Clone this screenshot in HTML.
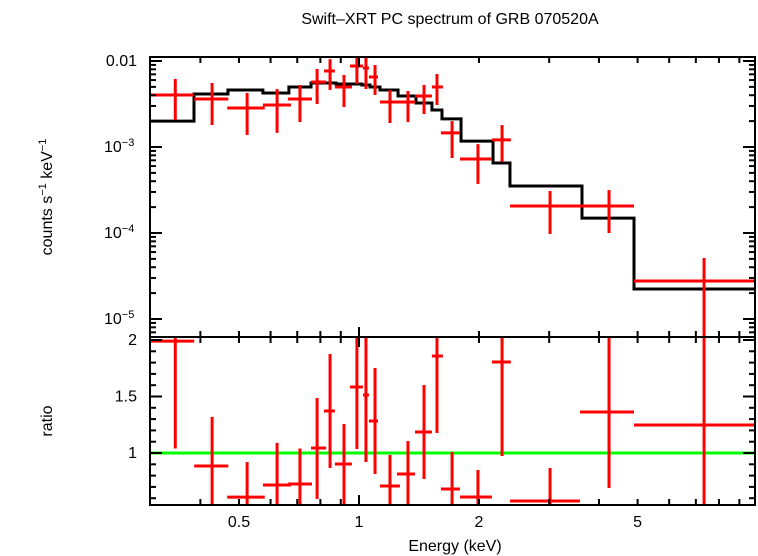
<!DOCTYPE html>
<html><head><meta charset="utf-8"><style>
html,body{margin:0;padding:0;background:#fff;}
svg{display:block;font-family:"Liberation Sans",Arial,sans-serif;}
</style></head><body>
<svg id="c" width="758" height="556" viewBox="0 0 758 556">
<text x="450" y="24" text-anchor="middle" font-size="16">Swift–XRT PC spectrum of GRB 070520A</text>
<text x="0" y="0" transform="translate(52,197) rotate(-90)" text-anchor="middle" font-size="16">counts s<tspan dy="-6" font-size="11">−1</tspan><tspan dy="6"> keV</tspan><tspan dy="-6" font-size="11">−1</tspan></text>
<text x="0" y="0" transform="translate(52,421) rotate(-90)" text-anchor="middle" font-size="16">ratio</text>
<text x="455" y="551" text-anchor="middle" font-size="16">Energy (keV)</text>
</svg>
<script>
const eLo=[0.299,0.386,0.467,0.574,0.663,0.758,0.817,0.870,0.949,1.023,1.059,1.129,1.245,1.382,1.524,1.605,1.792,2.155,2.392,3.585,4.897];
const eHi=[0.386,0.470,0.580,0.675,0.762,0.827,0.870,0.960,1.023,1.059,1.116,1.267,1.382,1.524,1.624,1.792,2.155,2.404,3.585,4.897,9.85];
const eMid=[0.346,0.428,0.524,0.623,0.711,0.785,0.846,0.917,0.988,1.041,1.097,1.196,1.327,1.456,1.569,1.712,1.988,2.285,3.015,4.239,7.34];
const flux=[4.03e-3,3.61e-3,2.84e-3,3.08e-3,3.61e-3,5.70e-3,7.65e-3,4.99e-3,8.75e-3,8.29e-3,6.52e-3,3.34e-3,3.34e-3,3.92e-3,4.99e-3,1.46e-3,7.24e-4,1.21e-3,2.06e-4,2.06e-4,2.77e-5];
const fluxHi=[6.18e-3,5.55e-3,4.25e-3,4.72e-3,5.26e-3,8.07e-3,1.05e-2,6.88e-3,1.17e-2,1.17e-2,8.98e-3,4.60e-3,4.48e-3,5.26e-3,7.06e-3,2.0e-3,1.08e-3,1.80e-3,3.08e-4,3.16e-4,5.12e-5];
const fluxLo=[2.06e-3,1.80e-3,1.38e-3,1.46e-3,1.95e-3,3.16e-3,4.60e-3,2.92e-3,5.40e-3,4.72e-3,4.03e-3,1.90e-3,1.95e-3,2.42e-3,3.08e-3,7.45e-4,3.72e-4,6.70e-4,9.73e-5,1.0e-4,1e-6];
const modelEdges=[0.299,0.3855,0.469,0.574,0.667,0.758,0.822,0.876,1.017,1.066,1.129,1.253,1.390,1.524,1.615,1.803,2.169,2.392,3.626,4.897,9.85];
const modelVals=[2.0e-3,4.13e-3,4.60e-3,4.25e-3,4.99e-3,5.55e-3,5.55e-3,5.40e-3,5.26e-3,4.99e-3,4.60e-3,3.92e-3,3.25e-3,2.69e-3,2.12e-3,1.17e-3,6.52e-4,3.52e-4,1.49e-4,2.23e-5];
const ratio=[1.99,0.885,0.61,0.717,0.726,1.044,1.372,0.903,1.584,1.513,1.283,0.708,0.814,1.186,1.858,0.681,0.611,1.805,0.575,1.363,1.248];
const ratioHi=[2.09,1.32,0.92,1.09,1.04,1.487,1.876,1.257,2.04,2.04,1.752,0.982,1.106,1.602,2.04,1.009,0.85,2.02,0.867,2.04,2.04];
const ratioLo=[1.04,0.4,0.4,0.4,0.4,0.593,0.867,0.4,1.035,0.920,0.814,0.4,0.4,0.770,1.177,0.4,0.4,0.973,0.4,0.690,0.4];
const xTicks=[0.5,1,2,5];
const xTickLabels=["0.5","1","2","5"];
const yTicksTop=[0.01,1e-3,1e-4,1e-5];
const yTickLabelsTop=[["0.01",""],["10","−3"],["10","−4"],["10","−5"]];
const yTicksBot=[2,1.5,1];
const yTickLabelsBot=["2","1.5","1"];

const L=150,R=755,T=57,M=337,B=505;
const NS="http://www.w3.org/2000/svg";
const svg=document.getElementById('c');
const X=e=>359+398.6*Math.log10(e);
const YT=f=>61-86*(Math.log10(f)+2);
const YB=r=>453-113*(r-1);
function el(tag,attrs,parent){const n=document.createElementNS(NS,tag);for(const k in attrs)n.setAttribute(k,attrs[k]);(parent||svg).appendChild(n);return n;}
const clipT=el('clipPath',{id:'ct'});el('rect',{x:L,y:T,width:R-L,height:M-T},clipT);
const clipB=el('clipPath',{id:'cb'});el('rect',{x:L,y:M,width:R-L,height:B-M},clipB);
const gT=el('g',{'clip-path':'url(#ct)'});


const gB=el('g',{'clip-path':'url(#cb)'});



let d='';
modelVals.forEach((v,i)=>{const x0=X(modelEdges[i]),x1=X(modelEdges[i+1]),y=YT(v);d+=(i===0?'M':'L')+x0+','+y+'L'+x1+','+y;});
const mp=el('path',{d:d,fill:'none',stroke:'#000','stroke-width':3},gT);



flux.forEach((f,i)=>{
  const g=el('g',{stroke:'#f00','stroke-width':3},gT);
  
  
  el('line',{x1:X(eLo[i]),x2:X(eHi[i]),y1:YT(f),y2:YT(f)},g);
  el('line',{x1:X(eMid[i]),x2:X(eMid[i]),y1:YT(fluxHi[i]),y2:YT(fluxLo[i])},g);
});
const gl=el('line',{x1:L,x2:R,y1:YB(1),y2:YB(1),stroke:'#0f0','stroke-width':3},gB);


ratio.forEach((r,i)=>{
  const g=el('g',{stroke:'#f00','stroke-width':3},gB);
  
  
  el('line',{x1:X(eLo[i]),x2:X(eHi[i]),y1:YB(r),y2:YB(r)},g);
  el('line',{x1:X(eMid[i]),x2:X(eMid[i]),y1:YB(ratioHi[i]),y2:YB(ratioLo[i])},g);
});

[[T,M,'top-panel-frame'],[M,B,'ratio-panel-frame']].forEach(p=>{
  const r=el('rect',{x:L,y:p[0],width:R-L,height:p[1]-p[0],fill:'none',stroke:'#000','stroke-width':2});
  
  
});
const tk=el('g',{stroke:'#000','stroke-width':2});


const xs=[];
for(let dec of [0.1,1]){for(let k=1;k<10;k++){const e=k*dec;if(X(e)>L+1&&X(e)<R-1)xs.push(e);}}
xs.forEach(e=>{const x=X(e);const big=Math.abs(e-1)<1e-9;const len=big?10:6;
  [T,M].forEach(y=>el('line',{x1:x,x2:x,y1:y,y2:y+len},tk));
  [M,B].forEach(y=>el('line',{x1:x,x2:x,y1:y,y2:y-len},tk));
});
for(let dec=1e-6;dec<0.05;dec*=10){for(let k=1;k<10;k++){const f=k*dec;const y=YT(f);if(y<T||y>M)continue;const len=k===1?12:6;
  el('line',{x1:L,x2:L+len,y1:y,y2:y},tk);el('line',{x1:R,x2:R-len,y1:y,y2:y},tk);}}
for(let r=0.6;r<2.05;r+=0.1){const y=YB(r);const big=Math.abs(r*2-Math.round(r*2))<1e-6;const len=big?12:6;
  el('line',{x1:L,x2:L+len,y1:y,y2:y},tk);el('line',{x1:R,x2:R-len,y1:y,y2:y},tk);}
xTicks.forEach((e,i)=>{const t=el('text',{x:X(e),y:527,'text-anchor':'middle','font-size':16});t.textContent=xTickLabels[i];
  });
yTicksTop.forEach((f,i)=>{const t=el('text',{x:i===0?137:128,y:YT(f)+5,'text-anchor':'end','font-size':16});
  t.textContent=yTickLabelsTop[i][0];
  if(yTickLabelsTop[i][1]){const s=el('tspan',{dy:-6,'font-size':11},t);s.textContent=yTickLabelsTop[i][1];t.setAttribute('text-anchor','start');t.setAttribute('x',104);}
  });
yTicksBot.forEach((r,i)=>{const t=el('text',{x:137,y:YB(r)+5,'text-anchor':'end','font-size':16});t.textContent=yTickLabelsBot[i];
  });
</script>
</body></html>
